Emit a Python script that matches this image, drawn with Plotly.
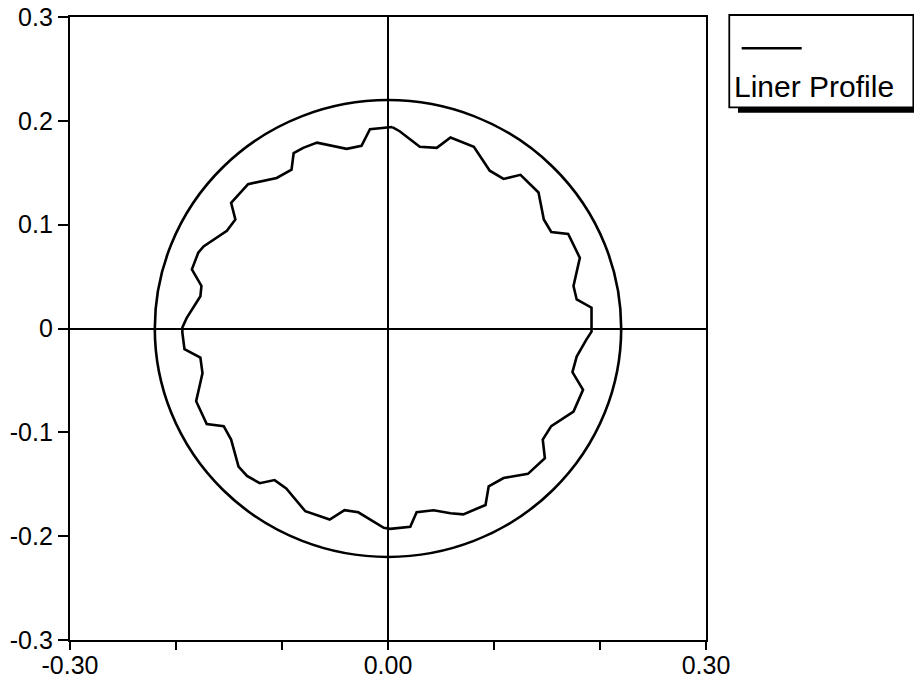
import plotly.graph_objects as go

# Liner profile points, counter-clockwise from the top
profile_x = [0.004, -0.017, -0.025, -0.039, -0.067, -0.080, -0.089, -0.091, -0.105, -0.132,
             -0.148, -0.144, -0.152, -0.174, -0.179, -0.185, -0.176, -0.177, -0.190, -0.194,
             -0.194, -0.192, -0.177, -0.175, -0.177, -0.181, -0.171, -0.155, -0.148, -0.141,
             -0.133, -0.121, -0.107, -0.096, -0.078, -0.055, -0.041, -0.028, -0.004, 0.002,
             0.021, 0.027, 0.043, 0.059, 0.071, 0.092, 0.095, 0.109, 0.132, 0.148,
             0.146, 0.154, 0.175, 0.184, 0.174, 0.178, 0.187, 0.192,
             0.192, 0.178, 0.175, 0.178, 0.181, 0.170, 0.154, 0.147, 0.142, 0.125,
             0.109, 0.096, 0.081, 0.059, 0.046, 0.030, 0.011, 0.004]
profile_y = [0.194, 0.192, 0.176, 0.173, 0.179, 0.174, 0.169, 0.153, 0.145, 0.139,
             0.121, 0.105, 0.094, 0.079, 0.073, 0.057, 0.041, 0.031, 0.010, 0.001,
             -0.004, -0.020, -0.028, -0.043, -0.052, -0.070, -0.092, -0.094, -0.107, -0.133,
             -0.142, -0.149, -0.146, -0.154, -0.176, -0.184, -0.175, -0.177, -0.192, -0.193,
             -0.191, -0.177, -0.175, -0.178, -0.179, -0.170, -0.152, -0.144, -0.140, -0.125,
             -0.107, -0.094, -0.080, -0.059, -0.042, -0.027, -0.011, -0.003,
             0.020, 0.028, 0.041, 0.054, 0.068, 0.091, 0.093, 0.105, 0.131, 0.148,
             0.144, 0.152, 0.175, 0.184, 0.174, 0.175, 0.190, 0.194]

circle_radius = 0.22

x_tickvals = [-0.3, -0.2, -0.1, 0.0, 0.1, 0.2, 0.3]
x_ticktext = ["-0.30", "", "", "0.00", "", "", "0.30"]
y_tickvals = [0.3, 0.2, 0.1, 0.0, -0.1, -0.2, -0.3]
y_ticktext = ["0.3", "0.2", "0.1", "0", "-0.1", "-0.2", "-0.3"]

legend_label = "Liner Profile"

FONT = "Liberation Sans, Arial, sans-serif"

fig = go.Figure()
fig.add_trace(go.Scatter(x=profile_x, y=profile_y, mode="lines", name=legend_label,
                         line=dict(color="black", width=2.6), showlegend=False,
                         hoverinfo="skip"))

shapes = [
    dict(type="circle", xref="x", yref="y",
         x0=-circle_radius, x1=circle_radius, y0=-circle_radius, y1=circle_radius,
         line=dict(color="black", width=2.6)),
    # legend box
    dict(type="rect", xref="paper", yref="paper", x0=1.0366, x1=1.326, y0=0.855, y1=1.0032,
         line=dict(color="black", width=1.8), fillcolor="white"),
    # legend shadow
    dict(type="rect", xref="paper", yref="paper", x0=1.0503, x1=1.33, y0=0.8465, y1=0.855,
         line=dict(width=0), fillcolor="black"),
    # legend line sample
    dict(type="line", xref="paper", yref="paper", x0=1.0561, x1=1.1505, y0=0.9498, y1=0.9498,
         line=dict(color="black", width=2.6)),
]

fig.update_layout(
    width=914, height=683,
    margin=dict(l=70, r=208, t=17, b=43, autoexpand=False),
    paper_bgcolor="white", plot_bgcolor="white",
    font=dict(family=FONT, size=25, color="black"),
    shapes=shapes,
    annotations=[dict(text=legend_label, xref="paper", yref="paper", x=1.041, y=0.888,
                      xanchor="left", yanchor="middle", showarrow=False,
                      font=dict(family=FONT, size=30, color="black"))],
    xaxis=dict(range=[-0.3, 0.3], tickvals=x_tickvals, ticktext=x_ticktext, automargin=False,
               showgrid=False, zeroline=True, zerolinecolor="black", zerolinewidth=2.2,
               showline=True, linecolor="black", linewidth=2.4, mirror=True,
               ticks="outside", ticklen=8, tickwidth=2, tickcolor="black",
               ticklabelstandoff=-6),
    yaxis=dict(range=[-0.3, 0.3], tickvals=y_tickvals, ticktext=y_ticktext, automargin=False,
               showgrid=False, zeroline=True, zerolinecolor="black", zerolinewidth=2.2,
               showline=True, linecolor="black", linewidth=2.4, mirror=True,
               ticks="outside", ticklen=10, tickwidth=2, tickcolor="black"),
)

fig.write_html("out.html")
